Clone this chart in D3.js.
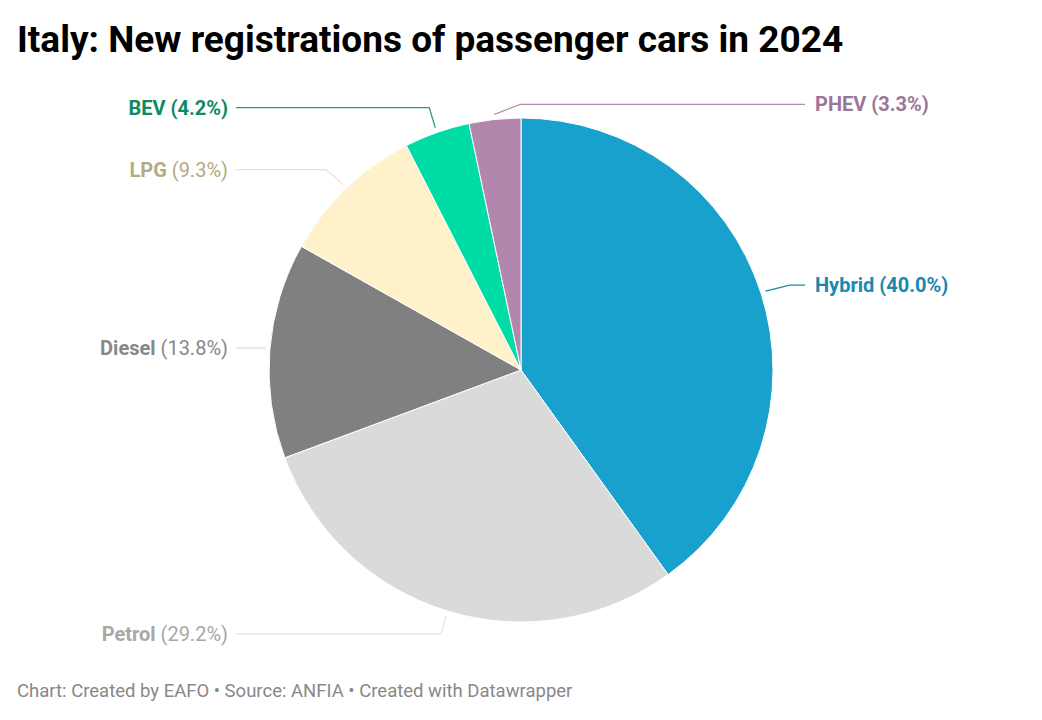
<!DOCTYPE html>
<html><head><meta charset="utf-8">
<script src="https://cdn.jsdelivr.net/npm/d3@7"></script>
<style>
body{margin:0;background:#fff;font-family:Roboto,"Noto Sans",sans-serif;}
</style></head>
<body><svg id="c" width="1042" height="720"></svg>
<script>
const categories = ["Hybrid","Petrol","Diesel","LPG","BEV","PHEV"];
const values = [40.0, 29.2, 13.8, 9.3, 4.2, 3.3];
const valueLabels = ["40.0%","29.2%","13.8%","9.3%","4.2%","3.3%"];

const fills = {Hybrid:"#18a1cd",Petrol:"#dadada",Diesel:"#808080",LPG:"#fff1c9",BEV:"#00dca6",PHEV:"#b286ad"};
const textColors = {Hybrid:"#1889b0",Petrol:"#a8a8a8",Diesel:"#888888",LPG:"#b6aa85",BEV:"#0e8a5e",PHEV:"#9c7698"};
const lineColors = {Hybrid:"#1889b0",Petrol:"#e2e2e2",Diesel:"#dddddd",LPG:"#e6e1d2",BEV:"#2a9a72",PHEV:"#b08cae"};
const boldValue = {Hybrid:true,Petrol:false,Diesel:false,LPG:false,BEV:true,PHEV:true};
// leader-line elbow offsets (layout): [dx, dy] from anchor
const elbow = {Hybrid:[24,-6],Petrol:[-5,18],Diesel:[0,-2],LPG:[-17,-15],BEV:[-6,-20],PHEV:[26,-10]};

const svg = d3.select("#c");
const cx = 521, cy = 370, r = 252;

svg.append("text").attr("x",17).attr("y",52)
  .attr("font-size",37).attr("font-weight",700).attr("fill","#000")
  .text("Italy: New registrations of passenger cars in 2024");

svg.append("text").attr("x",17).attr("y",697)
  .attr("font-size",18.5).attr("fill","#888")
  .text("Chart: Created by EAFO \u2022 Source: ANFIA \u2022 Created with Datawrapper");

const data = categories.map((c,i)=>({name:c,value:values[i],label:valueLabels[i]}));
const pie = d3.pie().value(d=>d.value).sort(null);
const arcs = pie(data);
const arc = d3.arc().innerRadius(0).outerRadius(r);

const g = svg.append("g").attr("transform",`translate(${cx},${cy})`);
g.selectAll("path").data(arcs).join("path")
  .attr("d",arc).attr("fill",d=>fills[d.data.name])
  .attr("stroke","#fff").attr("stroke-width",1);

const rightX = cx + r + 32, rightText = cx + r + 42;
const leftX = cx - r - 33, leftText = cx - r - 41;

arcs.forEach(a=>{
  const name = a.data.name;
  const mid = (a.startAngle + a.endAngle)/2;
  const sx = cx + (r+5)*Math.sin(mid), sy = cy - (r+5)*Math.cos(mid);
  const [dx,dy] = elbow[name];
  const ex = sx+dx, ey = sy+dy;
  const right = (name==="Hybrid" || name==="PHEV");
  const endX = right ? rightX : leftX;
  svg.append("path")
    .attr("d",`M${sx},${sy}L${ex},${ey}L${endX},${ey}`)
    .attr("fill","none").attr("stroke",lineColors[name]).attr("stroke-width",1.2);
  const t = svg.append("text")
    .attr("x", right ? rightText : leftText).attr("y", ey)
    .attr("dy","0.35em").attr("font-size",20)
    .attr("text-anchor", right ? "start" : "end")
    .attr("fill",textColors[name]);
  t.append("tspan").attr("font-weight",700).text(name+" ");
  t.append("tspan").attr("font-weight",boldValue[name]?700:400).text("("+a.data.label+")");
});
</script></body></html>
